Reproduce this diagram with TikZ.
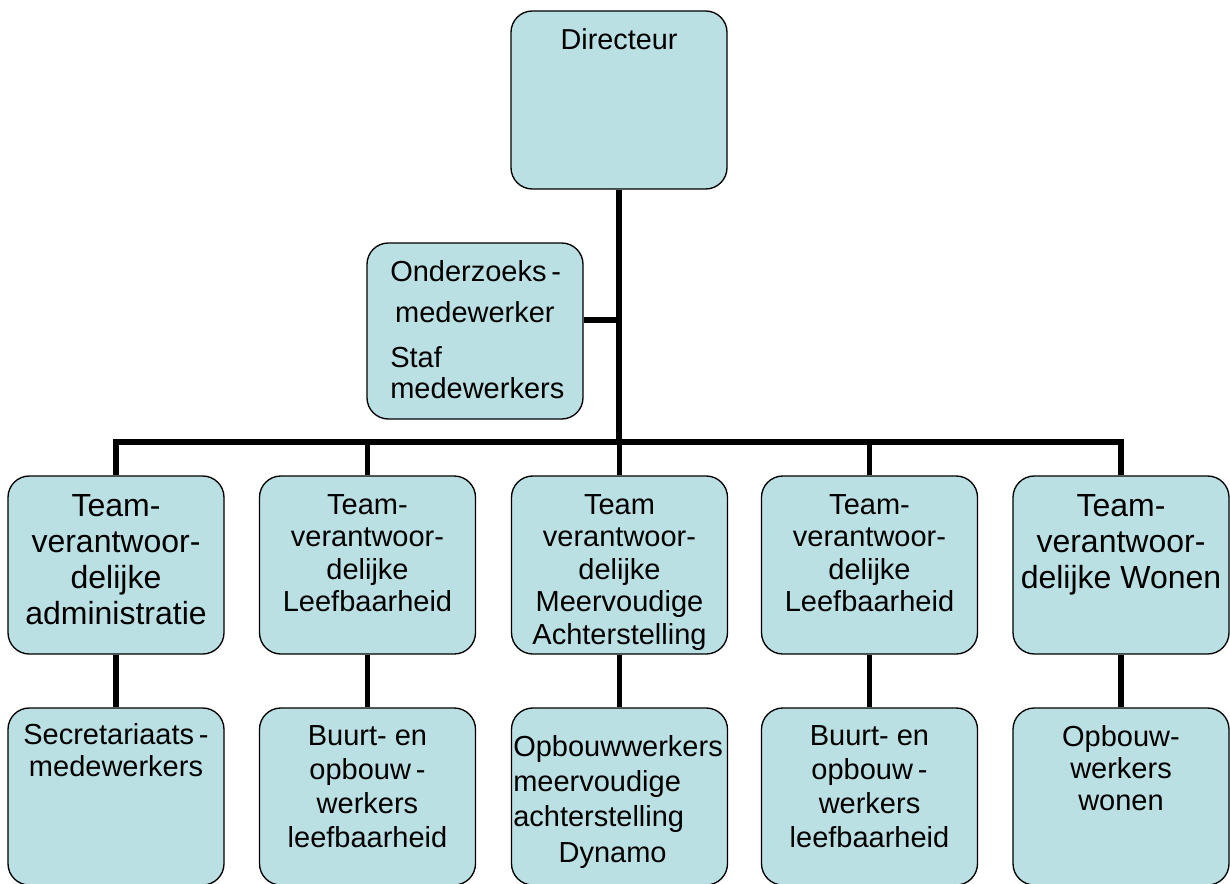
\documentclass[tikz,border=0pt]{standalone}
\usepackage{fontspec}
\setmainfont{Liberation Sans}
\definecolor{boxfill}{HTML}{BBE0E3}
\begin{document}
\begin{tikzpicture}[x=0.75pt,y=-0.75pt,
  box/.style={draw=black,line width=1pt,fill=boxfill,rounded corners=16pt,minimum width=162pt,inner sep=0pt},
  conn/.style={line width=4pt,line join=miter,line cap=butt},
  txt/.style={inner sep=0pt,anchor=north,align=center},
  fbig/.style={font=\fontsize{24pt}{27pt}\selectfont},
  fmid/.style={font=\fontsize{21.75pt}{24.4pt}\selectfont}]
\useasboundingbox (0,0) rectangle (1230,884);
\clip (0,0) rectangle (1230,884);
% director and staff
\node[box,minimum height=133.5pt] (dir) at (619,100) {};
\node[txt,font=\fontsize{21.6pt}{24pt}\selectfont] (dirt) at (619,28) {Directeur};
\node[box,minimum height=132pt] (ond) at (475,331) {};
\node[txt,anchor=north west,align=left,font=\fontsize{21.75pt}{23.25pt}\selectfont] (ondt) at (390,260)
  {Onderzoeks\,-\\[8pt]\,medewerker\\[10pt]Staf\\medewerkers};
% team row
\node[box,minimum height=133.5pt] (t1) at (116,565) {};
\node[box,minimum height=133.5pt] (t2) at (367.5,565) {};
\node[box,minimum height=133.5pt] (t3) at (619.5,565) {};
\node[box,minimum height=133.5pt] (t4) at (869.5,565) {};
\node[box,minimum height=133.5pt] (t5) at (1121,565) {};
\node[txt,fbig] (t1t) at (116,494) {Team-\\verantwoor-\\delijke\\administratie};
\node[txt,fmid] (t2t) at (367.5,494) {Team-\\verantwoor-\\delijke\\Leefbaarheid};
\node[txt,fmid] (t3t) at (619.5,494) {Team\\verantwoor-\\delijke\\Meervoudige\\Achterstelling};
\node[txt,fmid] (t4t) at (869.5,494) {Team-\\verantwoor-\\delijke\\Leefbaarheid};
\node[txt,fbig] (t5t) at (1121,494) {Team-\\verantwoor-\\delijke Wonen};
% lower row
\node[box,minimum height=132.75pt] (b1) at (116,796.5) {};
\node[box,minimum height=132.75pt] (b2) at (367.5,796.5) {};
\node[box,minimum height=132.75pt] (b3) at (619.5,796.5) {};
\node[box,minimum height=132.75pt] (b4) at (869.5,796.5) {};
\node[box,minimum height=132.75pt] (b5) at (1121,796.5) {};
\node[txt,font=\fontsize{21.75pt}{24pt}\selectfont] (b1t) at (116,723) {Secretariaats\,-\\medewerkers};
\node[txt,font=\fontsize{21.75pt}{25.5pt}\selectfont] (b2t) at (367.5,725) {Buurt- en\\opbouw\,-\\werkers\\leefbaarheid};
\node[txt,anchor=north west,align=left,font=\fontsize{21.75pt}{26.5pt}\selectfont] (b3t) at (513,735)
  {Opbouwwerkers\\meervoudige\\achterstelling\\\hspace*{34pt}Dynamo};
\node[txt,font=\fontsize{21.75pt}{25.5pt}\selectfont] (b4t) at (869.5,725) {Buurt- en\\opbouw\,-\\werkers\\leefbaarheid};
\node[txt,font=\fontsize{21.75pt}{24pt}\selectfont] (b5t) at (1121,725) {Opbouw-\\werkers\\wonen};
% connectors
\coordinate (bus) at (619,442);
\coordinate (j1) at (619,320);
\draw[conn] (dir.south) -- (bus);
\draw[conn] (ond.east |- j1) -- (j1);
\draw[conn] (t1.north) -- (t1.north |- bus) -- (t5.north |- bus) -- (t5.north);
\foreach \i in {2,3,4} {\draw[conn] (t\i.north) -- (t\i.north |- bus);}
\foreach \i in {1,...,5} {\draw[conn] (t\i.south) -- (b\i.north);}
\end{tikzpicture}
\end{document}
